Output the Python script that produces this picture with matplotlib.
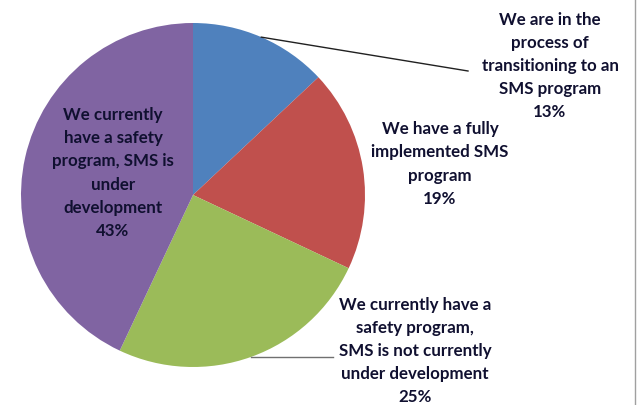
import math
import matplotlib.pyplot as plt
from matplotlib.lines import Line2D

labels = [
    "We are in the\nprocess of\ntransitioning to an\nSMS program",
    "We have a fully\nimplemented SMS\nprogram",
    "We currently have a\nsafety program,\nSMS is not currently\nunder development",
    "We currently\nhave a safety\nprogram, SMS is\nunder\ndevelopment",
]
shares = [13, 19, 25, 43]
colors = ["#4F81BD", "#C0504D", "#9BBB59", "#8064A2"]

W, H = 639, 406
fig = plt.figure(figsize=(W / 100, H / 100), dpi=100)
ax = fig.add_axes([0, 0, 1, 1])

cx, cy, r = 193, H - 196, 172
ax.pie(shares, colors=colors, startangle=90, counterclock=False,
       center=(cx, cy), radius=r, wedgeprops=dict(linewidth=0))
ax.set_xlim(0, W)
ax.set_ylim(0, H)
ax.set_aspect("equal")
ax.axis("off")

# label positions in pixel space (x centre, y centre from top)
label_pos = [(550, 66), (440, 164), (415, 351), (113, 173)]
txt_kw = dict(ha="center", va="center", fontsize=12.2, fontweight="bold",
              family=["Lato", "DejaVu Sans"], color="#101030", linespacing=1.55)
for lab, val, (lx, ly) in zip(labels, shares, label_pos):
    ax.text(lx, H - ly, f"{lab}\n{val}%", **txt_kw)

# leader lines from wedge edges
total = sum(shares)
cum = 0
mids = []
for v in shares:
    mids.append(math.radians(90 - (cum + v / 2) / total * 360))
    cum += v
ex = cx + r * math.cos(mids[0])
ey = cy + r * math.sin(mids[0])
ax.plot([ex, 468], [ey, H - 72], color="#202020", lw=1)
gx = cx + r * math.cos(mids[2])
gy = cy + r * math.sin(mids[2])
ax.plot([gx, 333], [gy, gy], color="#707070", lw=1)

# right frame edge
fig.add_artist(Line2D([635 / W, 635 / W], [0, 1], transform=fig.transFigure,
                      color="#A0A0A0", lw=1))

fig.savefig("out.png", dpi=100)
